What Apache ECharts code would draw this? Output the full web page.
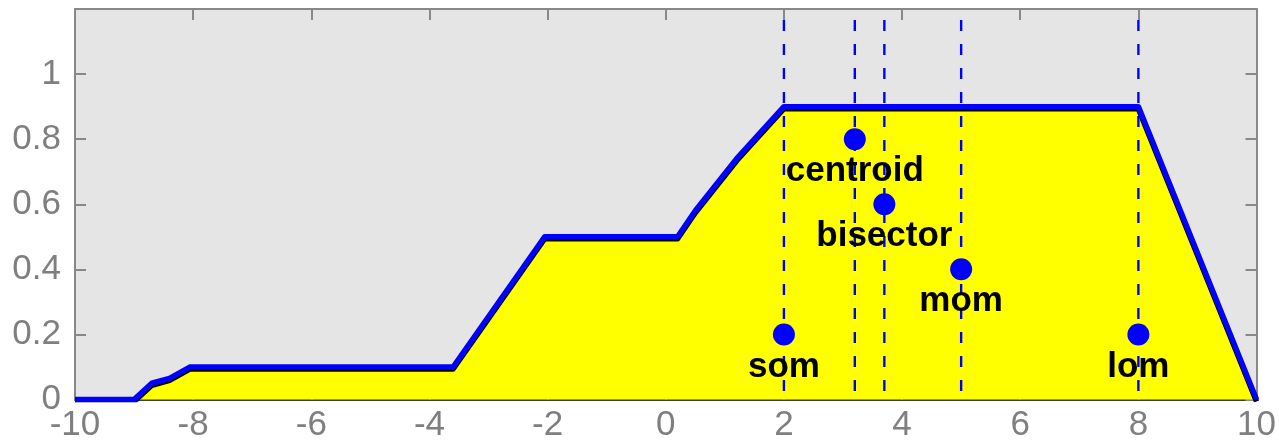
<!DOCTYPE html>
<html>
<head>
<meta charset="utf-8">
<script src="https://cdn.jsdelivr.net/npm/echarts@6/dist/echarts.min.js"></script>
<style>
  html, body { margin: 0; padding: 0; background: #ffffff; }
  #chart { width: 1279px; height: 447px; }
</style>
</head>
<body>
<div id="chart"></div>
<script>
// Aggregated membership function (x, degree of membership)
const curveX = [-10, -9.0, -8.7, -8.4, -8.05, -3.6, -2.05, 0.2, 0.5, 1.2, 2.0, 8.0, 10];
const curveY = [0, 0, 0.05, 0.065, 0.1, 0.1, 0.5, 0.5, 0.58, 0.74, 0.9, 0.9, 0];

// Defuzzification results
const methodNames = ['som', 'centroid', 'bisector', 'mom', 'lom'];
const methodX = [2, 3.2, 3.7, 5, 8];
const markerY = [0.2, 0.8, 0.6, 0.4, 0.2];

// Axis ticks
const xTicks = [-10, -8, -6, -4, -2, 0, 2, 4, 6, 8, 10];
const yTicks = [0, 0.2, 0.4, 0.6, 0.8, 1];
const yTop = 1.2;

const BLUE = '#0000ff';
const AXIS_GRAY = '#888888';
const LABEL_GRAY = '#7f7f7f';
const FONT = 'Liberation Sans, Arial, sans-serif';

const curveData = curveX.map((x, i) => [x, curveY[i]]);

const dashSeries = methodX.map((x, i) => ({
  name: methodNames[i] + '-line',
  type: 'line',
  data: [[x, yTop], [x, 0]],
  symbol: 'none',
  silent: true,
  z: 3,
  lineStyle: { color: BLUE, width: 2.4, type: [11, 13], dashOffset: 13 }
}));

const tickStyle = { inside: true, length: 11, lineStyle: { color: AXIS_GRAY, width: 2 } };

const baseXAxis = {
  type: 'value',
  min: -10, max: 10, interval: 2,
  splitLine: { show: false },
  axisTick: tickStyle
};
const baseYAxis = {
  type: 'value',
  min: 0, max: yTop, interval: 0.2,
  splitLine: { show: false },
  axisTick: tickStyle
};

const chart = echarts.init(document.getElementById('chart'), null, { renderer: 'canvas' });
chart.setOption({
  animation: false,
  backgroundColor: '#ffffff',
  grid: {
    left: 75, right: 22, top: 9, bottom: 47.5,
    show: true, backgroundColor: '#e5e5e5', borderWidth: 0
  },
  xAxis: [
    Object.assign({}, baseXAxis, {
      position: 'bottom',
      axisLine: { show: true, onZero: false, lineStyle: { color: '#000000', width: 1.5 } },
      axisLabel: {
        color: LABEL_GRAY, fontSize: 35, fontFamily: FONT, margin: 8,
        formatter: v => xTicks.includes(Math.round(v)) ? String(Math.round(v)) : ''
      }
    }),
    Object.assign({}, baseXAxis, {
      position: 'top',
      axisLine: { show: true, onZero: false, lineStyle: { color: AXIS_GRAY, width: 2 } },
      axisLabel: { show: false }
    })
  ],
  yAxis: [
    Object.assign({}, baseYAxis, {
      position: 'left',
      axisLine: { show: true, onZero: false, lineStyle: { color: AXIS_GRAY, width: 2 } },
      axisLabel: {
        color: LABEL_GRAY, fontSize: 35, fontFamily: FONT, margin: 14,
        formatter: v => {
          const r = Math.round(v * 10) / 10;
          return yTicks.includes(r) ? String(r) : '';
        }
      }
    }),
    Object.assign({}, baseYAxis, {
      position: 'right',
      axisLine: { show: true, onZero: false, lineStyle: { color: AXIS_GRAY, width: 2 } },
      axisLabel: { show: false }
    })
  ],
  series: [
    {
      name: 'aggregate',
      type: 'line',
      data: curveData,
      symbol: 'none',
      z: 2,
      lineStyle: {
        color: BLUE, width: 5.5, join: 'round',
        shadowColor: '#000000', shadowBlur: 0, shadowOffsetX: 0, shadowOffsetY: 2
      },
      areaStyle: { color: '#ffff00', opacity: 1, origin: 'start' }
    },
    ...dashSeries,
    {
      name: 'methods',
      type: 'scatter',
      data: methodX.map((x, i) => ({ value: [x, markerY[i]], name: methodNames[i] })),
      symbol: 'circle',
      symbolSize: 22,
      z: 5,
      itemStyle: { color: BLUE, opacity: 1 },
      label: {
        show: true,
        position: 'bottom',
        distance: 4,
        formatter: p => p.name,
        color: '#000000',
        fontSize: 35,
        fontWeight: 'bold',
        fontFamily: FONT
      }
    }
  ]
});
</script>
</body>
</html>
